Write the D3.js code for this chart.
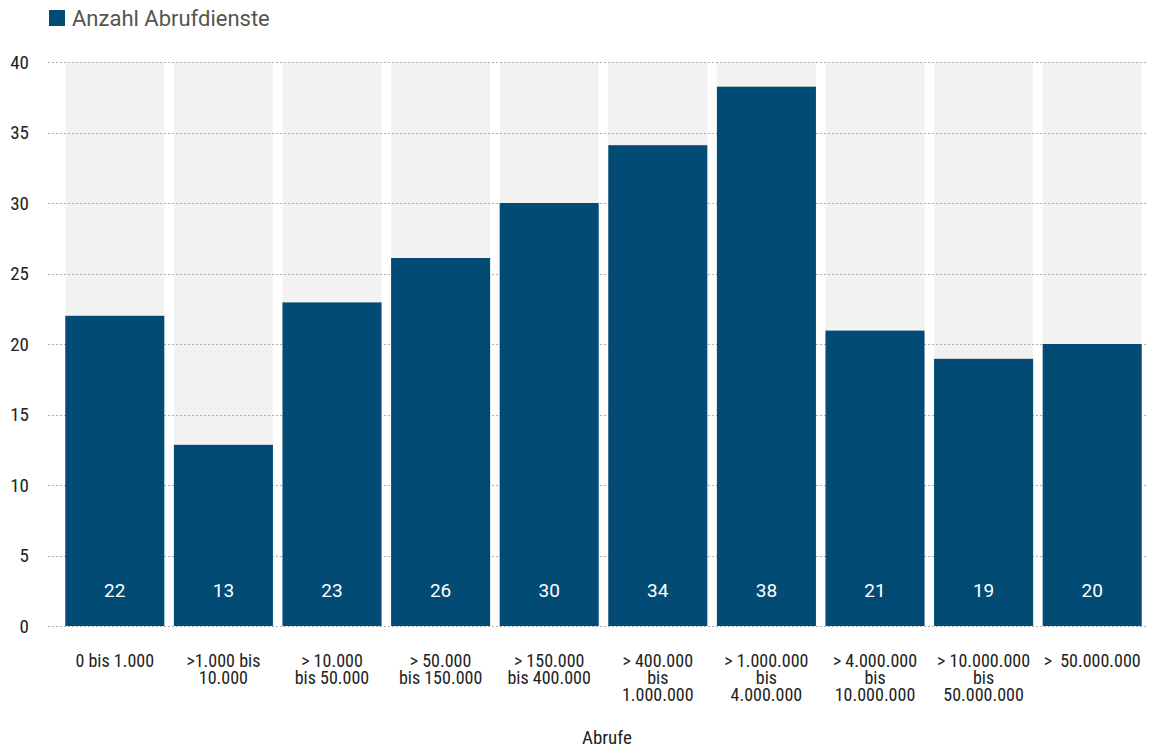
<!DOCTYPE html>
<html><head><meta charset="utf-8">
<script src="https://cdn.jsdelivr.net/npm/d3@7"></script>
<style>body{margin:0;background:#fff}svg{display:block}</style>
</head><body>
<svg id="c" width="1157" height="751"></svg>
<script>
const categories = [
  "0 bis 1.000",
  ">1.000 bis\n10.000",
  "> 10.000\nbis 50.000",
  "> 50.000\nbis 150.000",
  "> 150.000\nbis 400.000",
  "> 400.000\nbis\n1.000.000",
  "> 1.000.000\nbis\n4.000.000",
  "> 4.000.000\nbis\n10.000.000",
  "> 10.000.000\nbis\n50.000.000",
  ">  50.000.000"
];
const values = [22, 12.85, 22.95, 26.1, 30, 34.1, 38.25, 20.95, 18.95, 20];
const yTicks = [0, 5, 10, 15, 20, 25, 30, 35, 40];
const seriesName = "Anzahl Abrufdienste";
const axisTitle = "Abrufe";

const svg = d3.select("#c");
const condensed = "'Liberation Sans Narrow','Roboto Condensed','Arial Narrow',sans-serif";
const regular = "Roboto,'Liberation Sans',sans-serif";
const barColor = "#024b75";

const x = d3.scaleBand().domain(categories).range([60.5, 1146.5]).paddingInner(0.088).paddingOuter(0.044);
const y = d3.scaleLinear().domain([0, 40]).range([626, 62]);

// background bands
svg.append("g").selectAll("rect").data(categories).join("rect")
  .attr("x", d => x(d)).attr("width", x.bandwidth())
  .attr("y", y(40)).attr("height", y(0) - y(40))
  .attr("fill", "#f2f2f2");

// grid
svg.append("g").selectAll("line").data(yTicks).join("line")
  .attr("x1", 48).attr("x2", 1146)
  .attr("y1", d => Math.round(y(d)) + 0.5).attr("y2", d => Math.round(y(d)) + 0.5)
  .attr("stroke", "#b0b0b0").attr("stroke-width", 1).attr("stroke-dasharray", "2,2");

// y labels
const yAxis = d3.axisLeft(y).tickValues(yTicks).tickSize(0).tickPadding(0).tickFormat(d3.format("d"));
const ya = svg.append("g").attr("transform", "translate(29,0)").call(yAxis);
ya.select(".domain").remove();
ya.selectAll("text").attr("font-family", condensed).attr("font-size", 19).attr("fill", "#222");

// bars
svg.append("g").selectAll("rect").data(values).join("rect")
  .attr("x", (d, i) => x(categories[i])).attr("width", x.bandwidth())
  .attr("y", d => y(d)).attr("height", d => y(0) - y(d))
  .attr("fill", barColor);

// value labels
svg.append("g").selectAll("text").data(values).join("text")
  .attr("x", (d, i) => x(categories[i]) + x.bandwidth() / 2)
  .attr("y", 597)
  .attr("text-anchor", "middle")
  .attr("font-family", regular).attr("font-size", 19).attr("fill", "#fff")
  .text(d => d3.format(".0f")(d));

// x labels
const xl = svg.append("g").selectAll("text").data(categories).join("text")
  .attr("x", d => x(d) + x.bandwidth() / 2)
  .attr("y", 667)
  .attr("text-anchor", "middle")
  .attr("font-family", condensed).attr("font-size", 18).attr("fill", "#222")
  .style("white-space", "pre");
xl.each(function(d) {
  const t = d3.select(this);
  d.split("\n").forEach((line, i) => {
    t.append("tspan").attr("x", x(d) + x.bandwidth() / 2).attr("dy", i === 0 ? 0 : 17).text(line);
  });
});

// axis title
svg.append("text").attr("x", 607).attr("y", 744).attr("text-anchor", "middle")
  .attr("font-family", condensed).attr("font-size", 19).attr("fill", "#222").text(axisTitle);

// legend
svg.append("rect").attr("x", 49).attr("y", 10).attr("width", 16).attr("height", 16).attr("fill", barColor);
svg.append("text").attr("x", 72).attr("y", 26).attr("font-family", regular).attr("font-size", 22)
  .attr("fill", "#55554f").text(seriesName);
</script>
</body></html>
